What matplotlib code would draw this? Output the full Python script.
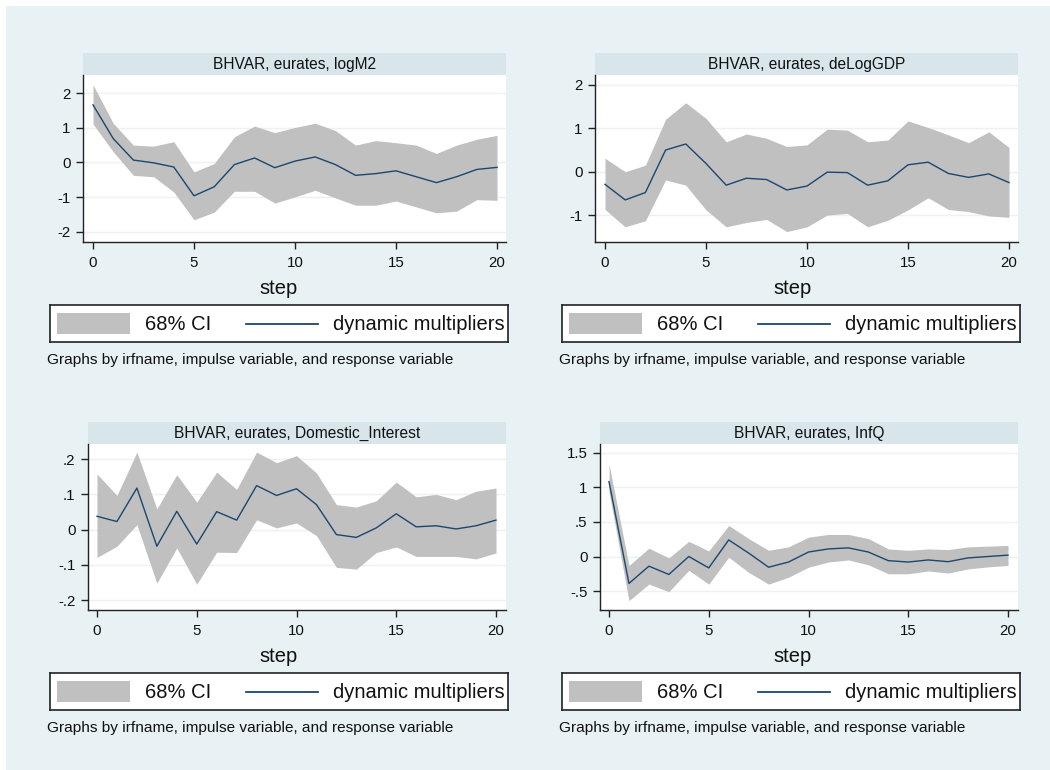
import numpy as np
import matplotlib
matplotlib.use("Agg")
import matplotlib.pyplot as plt
from matplotlib.patches import Rectangle
from matplotlib.lines import Line2D

plt.rcParams['font.family'] = ['Liberation Sans', 'DejaVu Sans']

W, H = 1050, 770
BG = '#e8f1f3'
STRIP = '#d8e5ea'
BAND = '#c0c0c0'
LINE = '#1a476f'
GRID = '#eaf2f3'

steps = list(range(21))

# logM2
m2_irf = [1.66, 0.69, 0.07, -0.01, -0.13, -0.96, -0.70, -0.06, 0.13, -0.15, 0.04,
          0.16, -0.06, -0.37, -0.32, -0.24, -0.41, -0.58, -0.41, -0.20, -0.14]
m2_hi = [2.24, 1.13, 0.50, 0.47, 0.60, -0.27, -0.03, 0.74, 1.05, 0.86, 1.01,
         1.13, 0.92, 0.50, 0.63, 0.57, 0.50, 0.26, 0.50, 0.67, 0.78]
m2_lo = [1.11, 0.31, -0.37, -0.41, -0.85, -1.65, -1.43, -0.83, -0.83, -1.17, -0.99,
         -0.80, -1.02, -1.23, -1.23, -1.11, -1.28, -1.45, -1.40, -1.07, -1.09]

# deLogGDP
gdp_irf = [-0.29, -0.65, -0.48, 0.50, 0.64, 0.19, -0.31, -0.15, -0.18, -0.42, -0.33,
           -0.01, -0.02, -0.31, -0.21, 0.16, 0.22, -0.04, -0.13, -0.05, -0.25]
gdp_hi = [0.31, 0.00, 0.15, 1.21, 1.59, 1.23, 0.69, 0.87, 0.77, 0.58, 0.62,
          0.98, 0.96, 0.69, 0.73, 1.17, 1.02, 0.85, 0.67, 0.92, 0.56]
gdp_lo = [-0.87, -1.27, -1.13, -0.19, -0.31, -0.88, -1.27, -1.17, -1.10, -1.38, -1.27,
          -1.00, -0.96, -1.27, -1.12, -0.88, -0.60, -0.87, -0.92, -1.02, -1.05]

# Domestic_Interest
int_irf = [0.038, 0.023, 0.118, -0.047, 0.052, -0.041, 0.051, 0.027, 0.125, 0.097, 0.116,
           0.071, -0.014, -0.022, 0.005, 0.045, 0.008, 0.011, 0.002, 0.011, 0.027]
int_hi = [0.158, 0.097, 0.220, 0.059, 0.156, 0.078, 0.163, 0.114, 0.220, 0.190, 0.210,
          0.161, 0.071, 0.064, 0.082, 0.135, 0.093, 0.100, 0.085, 0.109, 0.118]
int_lo = [-0.079, -0.047, 0.014, -0.152, -0.052, -0.155, -0.064, -0.065, 0.028, 0.005, 0.019,
          -0.017, -0.107, -0.112, -0.065, -0.049, -0.076, -0.076, -0.076, -0.083, -0.066]

# InfQ
inf_irf = [1.085, -0.39, -0.14, -0.26, 0.00, -0.165, 0.24, 0.05, -0.155, -0.08, 0.065,
           0.11, 0.125, 0.065, -0.06, -0.08, -0.05, -0.075, -0.02, 0.00, 0.02]
inf_hi = [1.34, -0.13, 0.12, -0.02, 0.22, 0.08, 0.45, 0.26, 0.09, 0.14, 0.28,
          0.32, 0.32, 0.26, 0.11, 0.09, 0.11, 0.10, 0.14, 0.15, 0.16]
inf_lo = [0.94, -0.64, -0.40, -0.51, -0.20, -0.40, -0.01, -0.23, -0.40, -0.30, -0.155,
          -0.08, -0.05, -0.12, -0.25, -0.25, -0.21, -0.24, -0.18, -0.15, -0.13]

panels = [
    # title, irf, lo, hi, yticks, yticklabels, ylim, plot box (x0, y0, x1, y1) px, x of step 0
    ("BHVAR, eurates, logM2", m2_irf, m2_lo, m2_hi,
     [-2, -1, 0, 1, 2], ['-2', '-1', '0', '1', '2'], (-2.29, 2.52), (83, 75, 506, 242), 93),
    ("BHVAR, eurates, deLogGDP", gdp_irf, gdp_lo, gdp_hi,
     [-1, 0, 1, 2], ['-1', '0', '1', '2'], (-1.62, 2.23), (595, 75, 1018, 242), 605),
    ("BHVAR, eurates, Domestic_Interest", int_irf, int_lo, int_hi,
     [-0.2, -0.1, 0, 0.1, 0.2], ['-.2', '-.1', '0', '.1', '.2'], (-0.228, 0.243), (88, 444, 506, 610), 97),
    ("BHVAR, eurates, InfQ", inf_irf, inf_lo, inf_hi,
     [-0.5, 0, 0.5, 1, 1.5], ['-.5', '0', '.5', '1', '1.5'], (-0.775, 1.63), (600, 444, 1018, 610), 609),
]


def fbox(x0, y0, x1, y1):
    return [x0 / W, 1 - y1 / H, (x1 - x0) / W, (y1 - y0) / H]


fig = plt.figure(figsize=(W / 100, H / 100), dpi=100)
fig.patch.set_facecolor('white')
fig.patches.append(Rectangle((6 / W, 0), 1, 1 - 6 / H, transform=fig.transFigure,
                             facecolor=BG, edgecolor='none', zorder=-10))

for i, (title, irf, lo, hi, yt, ytl, ylim, box, xpx0) in enumerate(panels):
    x0, y0, x1, y1 = box
    col = i % 2
    row = i // 2
    # title strip
    sax = fig.add_axes(fbox(x0, y0 - 22, x1, y0))
    sax.set_facecolor(STRIP)
    sax.set_xticks([])
    sax.set_yticks([])
    for s in sax.spines.values():
        s.set_visible(False)
    sax.text(0.5, 0.48, title, ha='center', va='center', fontsize=11.2, color='#111111',
             transform=sax.transAxes)

    ax = fig.add_axes(fbox(x0, y0, x1, y1))
    ax.set_facecolor('white')
    ppu = (x1 - x0 - 19) / 20.0
    ax.set_xlim(-(xpx0 - x0) / ppu, 20 + (x1 - (xpx0 + 20 * ppu)) / ppu)
    ax.set_ylim(*ylim)
    ax.fill_between(steps, lo, hi, color=BAND, linewidth=0, zorder=2)
    ax.plot(steps, irf, color=LINE, linewidth=1.0, zorder=3)
    ax.set_yticks(yt)
    ax.set_yticklabels(ytl)
    ax.set_xticks([0, 5, 10, 15, 20])
    for v in yt:
        ax.axhline(v, color=GRID, linewidth=1.0, zorder=1)
    for s in ['top', 'right']:
        ax.spines[s].set_visible(False)
    for s in ['left', 'bottom']:
        ax.spines[s].set_color('#222222')
        ax.spines[s].set_linewidth(1.0)
    ax.tick_params(axis='both', length=5, width=1, color='#222222', labelsize=10.8, pad=4,
                   labelcolor='#111111')
    ax.tick_params(axis='x', pad=5)

    # axis title
    ybase = 0 if row == 0 else 368
    fig.text((279 if col == 0 else 793) / W, 1 - (288 + ybase) / H, 'step',
             ha='center', va='center', fontsize=14.5, color='#111111')

    # legend box
    lx0 = 50 if col == 0 else 562
    lx1 = lx0 + 458
    ly0 = 305 + ybase
    ly1 = 342 + ybase
    lax = fig.add_axes(fbox(lx0, ly0, lx1, ly1))
    lax.set_facecolor('white')
    lax.set_xlim(lx0, lx1)
    lax.set_ylim(ly1, ly0)
    lax.set_xticks([])
    lax.set_yticks([])
    for s in lax.spines.values():
        s.set_color('#222222')
        s.set_linewidth(1.2)
    lax.add_patch(Rectangle((lx0 + 7, ly0 + 8), 73, 21, facecolor=BAND, edgecolor='none'))
    lax.text(lx0 + 95, ly0 + 19, '68% CI', ha='left', va='center', fontsize=14.5, color='#111111')
    lax.add_line(Line2D([lx0 + 196, lx0 + 268], [ly0 + 19, ly0 + 19], color=LINE, linewidth=1.3))
    lax.text(lx0 + 283, ly0 + 19, 'dynamic multipliers', ha='left', va='center', fontsize=14.5,
             color='#111111')

    # note
    fig.text((lx0 - 3) / W, 1 - (360 + ybase) / H,
             'Graphs by irfname, impulse variable, and response variable',
             ha='left', va='center', fontsize=11.1, color='#111111')

fig.savefig('out.png', dpi=100, facecolor=fig.get_facecolor())
